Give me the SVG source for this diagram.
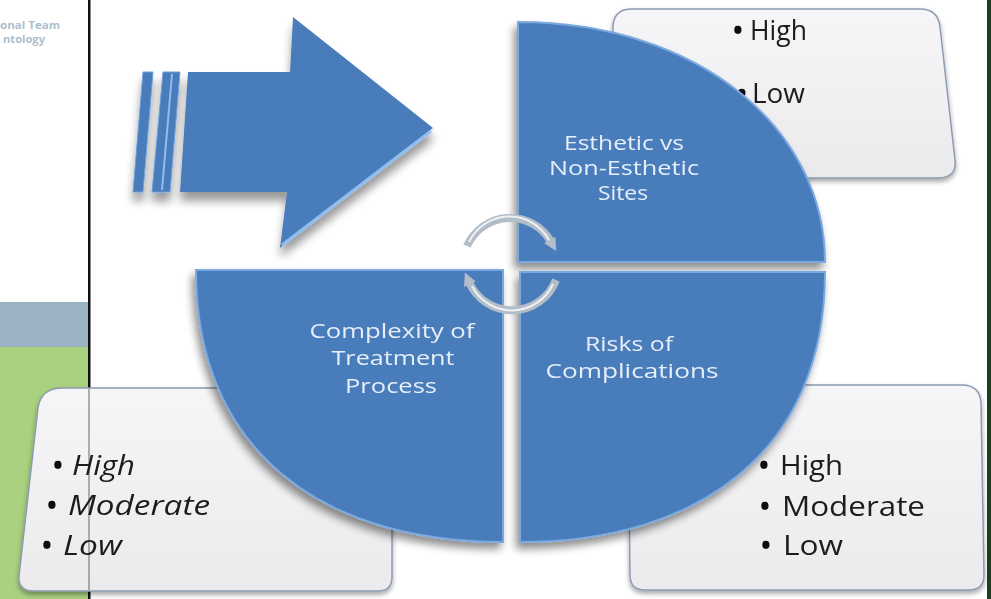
<svg xmlns="http://www.w3.org/2000/svg" width="991" height="599" viewBox="0 0 991 599">
<style>
.q{fill:#4a7cba;stroke:#7aa8e0;stroke-width:2}
.ql{font-family:"Open Sans","Liberation Sans",sans-serif;font-size:20px;font-weight:500;fill:#e6eef9;text-anchor:middle}
.bx{stroke:#8c9bb0;stroke-width:1.5}
.bt{font-family:"Open Sans","Liberation Sans",sans-serif;font-size:28px;font-weight:500;fill:#1c1c1c}
.bu{font-family:"Open Sans","Liberation Sans",sans-serif;font-size:26px;font-weight:bold;fill:#111;text-anchor:middle}
.it{font-style:italic}
.arc{fill:none;stroke:#b3bdc8;stroke-width:8}
.arcl{fill:none;stroke:#eef2f6;stroke-width:2}
</style>
<defs>
<filter id="sh" x="-20%" y="-20%" width="140%" height="140%">
<feGaussianBlur in="SourceAlpha" stdDeviation="4"/>
<feOffset dx="-3" dy="6"/>
<feComponentTransfer><feFuncA type="linear" slope="0.45"/></feComponentTransfer>
<feMerge><feMergeNode/><feMergeNode in="SourceGraphic"/></feMerge>
</filter>
<filter id="shb" x="-10%" y="-10%" width="120%" height="125%">
<feGaussianBlur in="SourceAlpha" stdDeviation="2.5"/>
<feOffset dx="0" dy="3"/>
<feComponentTransfer><feFuncA type="linear" slope="0.35"/></feComponentTransfer>
<feMerge><feMergeNode/><feMergeNode in="SourceGraphic"/></feMerge>
</filter>
<filter id="sha" x="-20%" y="-20%" width="140%" height="150%">
<feGaussianBlur in="SourceAlpha" stdDeviation="5"/>
<feOffset dx="0" dy="9"/>
<feComponentTransfer><feFuncA type="linear" slope="0.4"/></feComponentTransfer>
<feMerge><feMergeNode/><feMergeNode in="SourceGraphic"/></feMerge>
</filter>
<linearGradient id="bg" x1="0" y1="0" x2="0" y2="1">
<stop offset="0" stop-color="#f6f6f8"/>
<stop offset="1" stop-color="#ebebed"/>
</linearGradient>
<marker id="ah" viewBox="0 0 10 10" refX="2" refY="5" markerWidth="13" markerHeight="13" markerUnits="userSpaceOnUse" orient="auto">
<path d="M0,0 L10,5 L0,10 z" fill="#b3bdc8"/>
</marker>
</defs>

<rect x="0" y="0" width="991" height="599" fill="#ffffff"/>

<g id="side-panel">
<rect x="0" y="302" width="89" height="45" fill="#9ab2c1"/>
<rect x="0" y="347" width="89" height="252" fill="#aad17f"/>
<text x="0" y="29" font-family="Open Sans, Liberation Sans, sans-serif" font-size="10" font-weight="bold" fill="#adc0cf" textLength="60" lengthAdjust="spacingAndGlyphs">onal Team</text>
<text x="3" y="43" font-family="Open Sans, Liberation Sans, sans-serif" font-size="10" font-weight="bold" fill="#adc0cf" textLength="42" lengthAdjust="spacingAndGlyphs">ntology</text>
<rect x="88" y="0" width="2.5" height="599" fill="#111"/>
<rect x="987" y="0" width="4" height="599" fill="#1d3f1f"/>
</g>

<g id="box-esthetic" filter="url(#shb)">
<path class="bx" fill="url(#bg)" d="M632 9 L920 9 Q938 9 940 27 L955 160 Q957 178 938 178 L625 178 Q612 178 612 165 L613 26 Q614 9 632 9 Z"/>
<text class="bu" x="738" y="40" font-size="24">•</text>
<text class="bt" x="750" y="40" font-size="24" textLength="57" lengthAdjust="spacingAndGlyphs">High</text>
<text class="bu" x="742" y="103" font-size="24">•</text>
<text class="bt" x="752" y="103" font-size="24" textLength="53" lengthAdjust="spacingAndGlyphs">Low</text>
</g>

<g id="box-complexity" filter="url(#shb)">
<path class="bx" fill="url(#bg)" d="M62 388 L378 388 Q392 388 392 402 L392 577 Q392 591 378 591 L34 591 Q18 591 19 576 L38 408 Q41 388 62 388 Z"/>
<line x1="89" y1="389" x2="89" y2="590" stroke="#666" stroke-width="1"/>
<text class="bu" x="58" y="475">•</text>
<text class="bt it" x="72" y="475" textLength="63" lengthAdjust="spacingAndGlyphs">High</text>
<text class="bu" x="52" y="515">•</text>
<text class="bt it" x="68" y="515" textLength="142" lengthAdjust="spacingAndGlyphs">Moderate</text>
<text class="bu" x="47" y="555">•</text>
<text class="bt it" x="63" y="555" textLength="59" lengthAdjust="spacingAndGlyphs">Low</text>
</g>

<g id="box-risks" filter="url(#shb)">
<path class="bx" fill="url(#bg)" d="M646 385 L962 385 Q980 385 981 403 L984 575 Q984 590 969 590 L645 590 Q630 590 630 575 L628 400 Q628 385 646 385 Z"/>
<text class="bu" x="764" y="475">•</text>
<text class="bt" x="780" y="475" textLength="63" lengthAdjust="spacingAndGlyphs">High</text>
<text class="bu" x="765" y="516">•</text>
<text class="bt" x="782" y="516" textLength="143" lengthAdjust="spacingAndGlyphs">Moderate</text>
<text class="bu" x="766" y="555">•</text>
<text class="bt" x="783" y="555" textLength="60" lengthAdjust="spacingAndGlyphs">Low</text>
</g>

<g id="arrow" filter="url(#sha)">
<polygon points="143,72 153,72 143,192 133,192" fill="#4a7cba" stroke="#6d9fdc" stroke-width="1"/>
<polygon points="163,72 180,72 170,192 152,192" fill="#4a7cba" stroke="#6d9fdc" stroke-width="1"/>
<line x1="172" y1="74" x2="162" y2="190" stroke="#8fbdf0" stroke-width="2"/>
<polygon points="188,72 290,72 293,17 433,128 280,248 287,192 180,192" fill="#4a7cba"/>
<line x1="431" y1="131" x2="282" y2="245" stroke="#8fbdf0" stroke-width="3"/>
</g>

<g id="q-esthetic" filter="url(#sh)">
<path class="q" d="M518 22 C700 22 825 130 825 262 L518 262 Z"/>
<text class="ql" x="624" y="150" textLength="120" lengthAdjust="spacingAndGlyphs">Esthetic vs</text>
<text class="ql" x="624" y="175" textLength="150" lengthAdjust="spacingAndGlyphs">Non-Esthetic</text>
<text class="ql" x="623" y="200" textLength="50" lengthAdjust="spacingAndGlyphs">Sites</text>
</g>

<g id="q-complexity" filter="url(#sh)">
<path class="q" d="M503 270 L196 270 C196 450 321 542 503 542 Z"/>
<text class="ql" x="392" y="338" textLength="165" lengthAdjust="spacingAndGlyphs">Complexity of</text>
<text class="ql" x="393" y="365" textLength="123" lengthAdjust="spacingAndGlyphs">Treatment</text>
<text class="ql" x="391" y="393" textLength="92" lengthAdjust="spacingAndGlyphs">Process</text>
</g>

<g id="q-risks" filter="url(#sh)">
<path class="q" d="M520 272 L825 272 C825 450 700 542 520 542 Z"/>
<text class="ql" x="629" y="351" textLength="88" lengthAdjust="spacingAndGlyphs">Risks of</text>
<text class="ql" x="632" y="378" textLength="173" lengthAdjust="spacingAndGlyphs">Complications</text>
</g>

<g id="connectors">
<path class="arc" d="M467 246 A47 47 0 0 1 551 242" marker-end="url(#ah)"/>
<path class="arcl" d="M469 242 A45 45 0 0 1 549 240"/>
<path class="arc" d="M556 280 A47 47 0 0 1 469 282" marker-end="url(#ah)"/>
<path class="arcl" d="M553 284 A45 45 0 0 1 472 286"/>
</g>
</svg>
